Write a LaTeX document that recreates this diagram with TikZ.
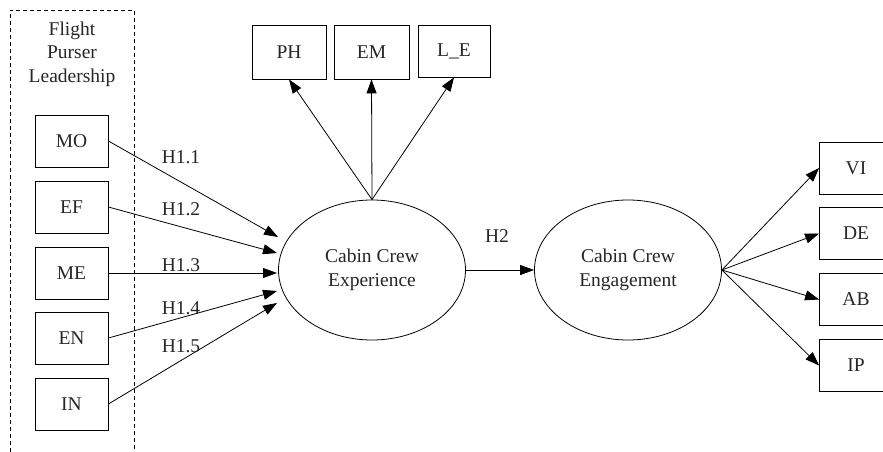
\documentclass[tikz,border=0pt]{standalone}
\usepackage{fontspec}
\setmainfont{Liberation Serif}
\usetikzlibrary{arrows.meta,shapes.geometric}

\begin{document}
\begin{tikzpicture}[x=1pt,y=-1pt,line width=0.8pt,
  every node/.style={font=\fontsize{19.5}{23.5}\selectfont,text=black!85},
  item/.style={draw,rectangle,minimum width=73pt,minimum height=52pt,inner sep=0pt},
  latent/.style={draw,ellipse,minimum width=187pt,minimum height=140pt,inner sep=0pt,align=center},
  link/.style={-{Triangle[length=14pt,width=10pt]}},
  hyp/.style={inner sep=0pt}]
	\useasboundingbox (0,0) rectangle (883,452);
	\clip (0,0) rectangle (883,452);

	% construct frame
	\draw[dash pattern=on 4pt off 3pt] (10,452) -- (10,10) -- (134,10) -- (134,452);
	\node [align=center] (fpl) at (72,54) {Flight\\Purser\\Leadership};

	\node [item] (mo) at (71.5,141) {MO};
	\node [item] (ef) at (71.5,207) {EF};
	\node [item] (me) at (71.5,273) {ME};
	\node [item] (en) at (71.5,338) {EN};
	\node [item] (in) at (71.5,404) {IN};

	\node [latent] (exp) at (372,270) {Cabin Crew\\Experience};
	\node [latent] (eng) at (628,270) {Cabin Crew\\Engagement};

	\node [item,minimum width=74pt,minimum height=54pt] (ph) at (289,52) {PH};
	\node [item,minimum width=75pt,minimum height=54pt] (em) at (371.5,52) {EM};
	\node [item,minimum width=72pt,minimum height=52pt] (le) at (454,51) {L\_E};

	\node [item] (vi) at (856,168) {VI};
	\node [item] (de) at (856,233.5) {DE};
	\node [item] (ab) at (856,299.5) {AB};
	\node [item] (ip) at (856,365.5) {IP};

	% arrow ends in front of the ellipse
	\coordinate (t1) at (278,237);
	\coordinate (t2) at (277,253);
	\coordinate (t3) at (277,273);
	\coordinate (t4) at (277,291);
	\coordinate (t5) at (277,303);

	\draw[link] (mo.east) -- (t1);
	\draw[link] (ef.east) -- (t2);
	\draw[link] (me.east) -- (t3);
	\draw[link] (en.east) -- (t4);
	\draw[link] (in.east) -- (t5);

	\node [hyp] (h11) at (181,157) {H1.1};
	\node [hyp] (h12) at (181,209) {H1.2};
	\node [hyp] (h13) at (181,265) {H1.3};
	\node [hyp] (h14) at (181,308) {H1.4};
	\node [hyp] (h15) at (181,346) {H1.5};

	\draw[link] (exp.north) -- (ph.south);
	\draw[link] (exp.north) -- (em.south);
	\draw[link] (exp.north) -- (le.south);

	\draw[link] (exp.east) -- (eng.west);
	\node [hyp] (h2) at (497,236) {H2};

	\draw[link] (eng.east) -- (vi.west);
	\draw[link] (eng.east) -- (de.west);
	\draw[link] (eng.east) -- (ab.west);
	\draw[link] (eng.east) -- (ip.west);
\end{tikzpicture}
\end{document}
